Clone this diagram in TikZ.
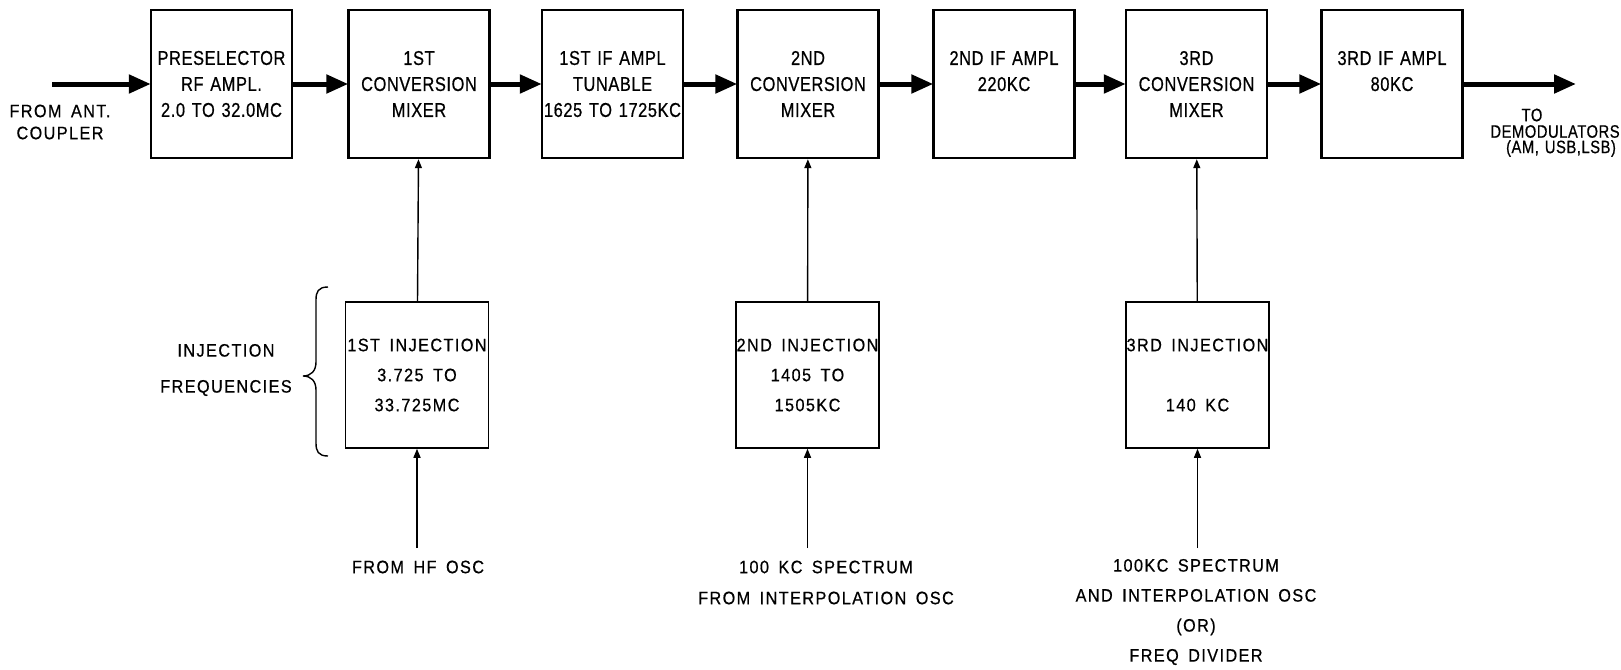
\documentclass[tikz,border=0pt]{standalone}
\usepackage{fontspec}
\setmainfont{Liberation Sans}
\newfontfamily\topf{Liberation Sans}[FakeStretch=0.82, LetterSpace=3, WordSpace=1.3, FakeBold=0.6]
\newfontfamily\lowf{Liberation Sans}[FakeStretch=0.9, LetterSpace=8, WordSpace=1.6, FakeBold=0.6]
\usetikzlibrary{arrows.meta}
\tikzset{
  topbox/.style={draw, line width=2.4pt, minimum width=141pt, minimum height=148pt, inner sep=0pt, align=center, font=\topf\fontsize{20}{26}\selectfont},
  injbox/.style={draw, line width=1.5pt, minimum width=143pt, minimum height=146pt, inner sep=0pt, align=center, font=\lowf\fontsize{18}{30}\selectfont},
  lbl/.style={inner sep=0pt, align=center, font=\lowf\fontsize{18}{31}\selectfont},
  outlbl/.style={inner sep=0pt, font=\topf\fontsize{18}{18}\selectfont},
  bigarrow/.style={line width=5pt, -{Triangle[length=22pt, width=18pt]}, shorten >=-1pt},
  thinarrow/.style={line width=1.4pt, -{Triangle[length=9pt, width=7pt]}},
}
\begin{document}
\begin{tikzpicture}[x=1pt, y=-1pt]
\useasboundingbox[fill=white] (0,0) rectangle (1621,669);
% top row
\node[topbox] (b1) at (221.5,84) {PRESELECTOR\\RF AMPL.\\2.0 TO 32.0MC};
\node[topbox] (b2) at (419,84) {1ST\\CONVERSION\\MIXER};
\node[topbox] (b3) at (612.5,84) {1ST IF AMPL\\TUNABLE\\1625 TO 1725KC};
\node[topbox] (b4) at (808,84) {2ND\\CONVERSION\\MIXER};
\node[topbox] (b5) at (1004,84) {2ND IF AMPL\\220KC\\\phantom{X}};
\node[topbox] (b6) at (1196.5,84) {3RD\\CONVERSION\\MIXER};
\node[topbox] (b7) at (1392,84) {3RD IF AMPL\\80KC\\\phantom{X}};
\coordinate (in) at (52,84);
\coordinate (out) at (1575,84);
\draw[bigarrow] (in) -- (b1.west);
\draw[bigarrow] (b1) -- (b2);
\draw[bigarrow] (b2) -- (b3);
\draw[bigarrow] (b3) -- (b4);
\draw[bigarrow] (b4) -- (b5);
\draw[bigarrow] (b5) -- (b6);
\draw[bigarrow] (b6) -- (b7);
\draw[bigarrow] (b7.east) -- (out);
\node[lbl, font=\lowf\fontsize{18}{22}\selectfont] (ant) at (60,122) {FROM ANT.\\COUPLER};
\node[outlbl] (to) at (1532,115) {TO};
\node[outlbl] (dem) at (1555,131.5) {DEMODULATORS};
\node[outlbl] (modes) at (1561,148.5) {(AM, USB,LSB)};
% injection row
\node[injbox] (i1) at (417,375) {1ST INJECTION\\3.725 TO\\33.725MC};
\node[injbox] (i2) at (807.5,375) {2ND INJECTION\\1405 TO\\1505KC};
\node[injbox] (i3) at (1197.5,375) {3RD INJECTION\\\phantom{X}\\140 KC};
\draw[thinarrow] (i1) -- (b2);
\draw[thinarrow] (i2) -- (b4);
\draw[thinarrow] (i3) -- (b6);
\coordinate (s1) at (417,548);
\coordinate (s2) at (807.5,548);
\coordinate (s3) at (1197.5,548);
\draw[thinarrow] (s1) -- (i1);
\draw[thinarrow] (s2) -- (i2);
\draw[thinarrow] (s3) -- (i3);
\node[lbl] (l1) at (418,567) {FROM HF OSC};
\node[lbl] (l2) at (826,582.5) {100 KC SPECTRUM\\FROM INTERPOLATION OSC};
\node[lbl, font=\lowf\fontsize{18}{30}\selectfont] (l3) at (1196,612) {100KC SPECTRUM\\AND INTERPOLATION OSC\\(OR)\\FREQ DIVIDER};
% brace
\draw[line width=1.4pt] (328,287) .. controls (318,287) and (316,292) .. (316,300) -- (316,362) .. controls (316,371) and (311,376) .. (303,376) .. controls (311,376) and (316,381) .. (316,390) -- (316,443) .. controls (316,451) and (318,456) .. (328,456);
\node[lbl, font=\lowf\fontsize{18}{36}\selectfont] (injf) at (226,370) {INJECTION\\FREQUENCIES};
\end{tikzpicture}
\end{document}
